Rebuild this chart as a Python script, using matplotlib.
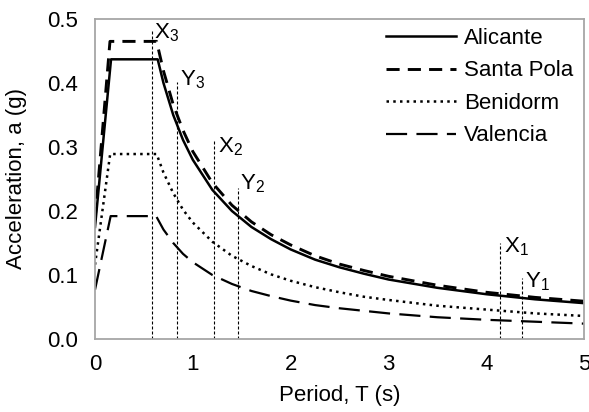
import numpy as np
import matplotlib.pyplot as plt

plt.rcParams['font.family'] = ['Liberation Sans', 'DejaVu Sans']
plt.rcParams['font.size'] = 16
plt.rcParams['mathtext.fontset'] = 'custom'
plt.rcParams['mathtext.rm'] = 'Liberation Sans'
plt.rcParams['mathtext.it'] = 'Liberation Sans'

# response spectra, period T (s) vs spectral acceleration (g)
T_ali = [0, 0.164, 0.641, 0.7, 0.8, 0.9, 1.0, 1.2, 1.4, 1.6, 1.8, 2.0, 2.25, 2.5, 2.75, 3.0, 3.5, 4.0, 4.5, 5.0]
a_ali = [0.175, 0.437, 0.437, 0.400, 0.350, 0.311, 0.280, 0.233, 0.200, 0.175, 0.156, 0.140,
         0.124, 0.112, 0.102, 0.093, 0.080, 0.070, 0.062, 0.056]

T_sp = [0, 0.153, 0.63, 0.7, 0.8, 0.9, 1.0, 1.2, 1.4, 1.6, 1.8, 2.0, 2.25, 2.5, 2.75, 3.0, 3.5, 4.0, 4.5, 5.0]
a_sp = [0.186, 0.465, 0.465, 0.419, 0.366, 0.326, 0.293, 0.244, 0.209, 0.183, 0.163, 0.147,
        0.130, 0.117, 0.107, 0.098, 0.084, 0.073, 0.065, 0.059]

T_ben = [0, 0.155, 0.63, 0.7, 0.8, 0.9, 1.0, 1.2, 1.4, 1.6, 1.8, 2.0, 2.25, 2.5, 2.75, 3.0, 3.5, 4.0, 4.5, 5.0]
a_ben = [0.116, 0.289, 0.289, 0.260, 0.228, 0.202, 0.182, 0.152, 0.130, 0.114, 0.101, 0.091,
         0.081, 0.073, 0.066, 0.061, 0.052, 0.046, 0.040, 0.036]

T_val = [0, 0.16, 0.625, 0.7, 0.8, 0.9, 1.0, 1.2, 1.4, 1.6, 1.8, 2.0, 2.25, 2.5, 2.75, 3.0, 3.5, 4.0, 4.5, 5.0]
a_val = [0.077, 0.192, 0.192, 0.171, 0.150, 0.133, 0.120, 0.100, 0.086, 0.075, 0.067, 0.060,
         0.053, 0.048, 0.044, 0.040, 0.034, 0.030, 0.027, 0.024]

# marker periods and heights of the vertical guide lines
mark_names = ['X$_3$', 'Y$_3$', 'X$_2$', 'Y$_2$', 'X$_1$', 'Y$_1$']
mark_T = [0.583, 0.838, 1.22, 1.462, 4.14, 4.37]
mark_top = [0.483, 0.402, 0.309, 0.236, 0.150, 0.095]
# label anchor (left, baseline)
lab_T = [0.60, 0.87, 1.26, 1.48, 4.18, 4.40]
lab_a = [0.470, 0.397, 0.291, 0.233, 0.136, 0.080]

fig = plt.figure(figsize=(5.89, 4.12), dpi=100)
ax = fig.add_axes([0.1613, 0.1772, 0.8302, 0.7767])

ax.plot(T_ali, a_ali, color='k', lw=1.8, ls='-', label='Alicante')
ax.plot(T_sp, a_sp, color='k', lw=2.1, ls=(0, (4.5, 2.8)), label='Santa Pola')
ax.plot(T_ben, a_ben, color='k', lw=1.8, ls=(0, (1, 1.7)), label='Benidorm')
ax.plot(T_val, a_val, color='k', lw=1.6, ls=(0, (9.5, 4.2)), label='Valencia')

for name, t, top, lt, la in zip(mark_names, mark_T, mark_top, lab_T, lab_a):
    ax.plot([t, t], [0, top], color='k', lw=0.8, ls=(0, (2.7, 1.8)))
    ax.text(lt, la, name, ha='left', va='baseline')

ax.set_xlim(0, 5)
ax.set_ylim(0, 0.5)
ax.set_xticks([0, 1, 2, 3, 4, 5])
ax.set_yticks([0.0, 0.1, 0.2, 0.3, 0.4, 0.5])
ax.set_yticklabels(['%.1f' % v for v in [0.0, 0.1, 0.2, 0.3, 0.4, 0.5]])
ax.tick_params(axis='y', length=0, pad=12)
ax.tick_params(axis='x', length=0, pad=11)
for sp in ax.spines.values():
    sp.set_color('#a6a6a6')
    sp.set_linewidth(1.3)

ax.set_xlabel('Period, T (s)')
ax.set_ylabel('Acceleration, a (g)')
ax.yaxis.set_label_coords(-0.139, 0.5)
ax.xaxis.set_label_coords(0.5, -0.145)

ax.legend(loc='upper right', bbox_to_anchor=(0.99, 0.99), frameon=False,
          handlelength=3.15, handletextpad=0.36, labelspacing=0.52,
          borderaxespad=0.15, borderpad=0.1)

fig.savefig('out.png', dpi=100)
